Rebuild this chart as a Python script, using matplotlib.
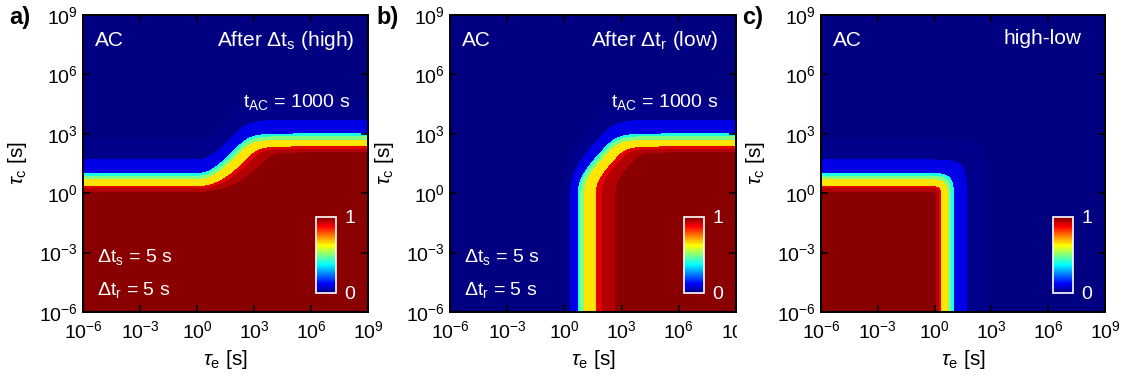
import numpy as np
import matplotlib
matplotlib.use("Agg")
from matplotlib import pyplot as plt
from matplotlib.colors import ListedColormap
from matplotlib.transforms import Bbox, TransformedBbox

plt.rcParams['font.family'] = ['Liberation Sans', 'DejaVu Sans']
plt.rcParams['mathtext.fontset'] = 'custom'
plt.rcParams['mathtext.rm'] = 'Liberation Sans'
plt.rcParams['mathtext.it'] = 'Liberation Sans:italic'
plt.rcParams['mathtext.bf'] = 'Liberation Sans:bold'

# AC stress parameters (from the annotations)
dt_s = 5.0      # high phase [s]
dt_r = 5.0      # low phase [s]
t_ac = 1000.0   # total AC time [s]

# contour levels of the occupancy maps
levels = [0, 0.01, 0.1, 0.4, 0.5, 0.65, 0.9, 0.95, 0.99, 1.0]

tick_vals = [1e-6, 1e-3, 1e0, 1e3, 1e6, 1e9]
tick_labels = [r'$10^{-6}$', r'$10^{-3}$', r'$10^{0}$', r'$10^{3}$', r'$10^{6}$', r'$10^{9}$']

panel_names = ['a)', 'b)', 'c)']
panel_titles = [r'After $\Delta$t$_\mathrm{s}$ (high)', r'After $\Delta$t$_\mathrm{r}$ (low)', 'high-low']


def matlab_jet(v):
    v = np.asarray(v, dtype=float)
    r = np.clip(1.5 - np.abs(4 * v - 3), 0, 1)
    g = np.clip(1.5 - np.abs(4 * v - 2), 0, 1)
    b = np.clip(1.5 - np.abs(4 * v - 1), 0, 1)
    return np.stack([r, g, b], axis=-1)


# occupancy of a trap: capture (tau_c) in high phase, emission (tau_e) in low phase
tau = np.logspace(-6, 9, 401)
te, tc = np.meshgrid(tau, tau)
cap = np.exp(-dt_s / tc)
emi = np.exp(-dt_r / te)
p = np.zeros_like(te)
n_cycles = int(round(t_ac / (dt_s + dt_r)))
for i in range(n_cycles):
    p_high = 1 - (1 - p) * cap
    p = p_high * emi
p_low = p
maps = [p_high, p_low, np.clip(p_high - p_low, 0, 1)]

fill_colors = [tuple(c) for c in matlab_jet(levels[:-1])]
jet_cmap = ListedColormap(matlab_jet(np.linspace(0, 1, 256)))

fig = plt.figure(figsize=(11.26, 3.81), dpi=100)
W, H = 1126.0, 381.0
lefts = [83, 450, 821]
widths = [285, 286, 284]
label_x = [9, 376, 742]
title_x = [0.951, 0.937, 0.919]

sm = plt.cm.ScalarMappable(cmap=jet_cmap, norm=plt.Normalize(0, 1))

axes = []
for k in range(3):
    ax = fig.add_axes([lefts[k] / W, 69 / H, widths[k] / W, 297 / H])
    axes.append(ax)
    ax.contourf(te, tc, maps[k], levels=levels, colors=fill_colors)
    ax.set_xscale('log')
    ax.set_yscale('log')
    ax.set_xlim(1e-6, 1e9)
    ax.set_ylim(1e-6, 1e9)
    ax.set_xticks(tick_vals)
    ax.set_xticklabels(tick_labels)
    ax.set_yticks(tick_vals)
    ax.set_yticklabels(tick_labels)
    ax.minorticks_off()
    ax.tick_params(direction='in', top=True, right=True, length=5, width=1.2,
                   labelsize=14, colors='black')
    ax.tick_params(axis='x', pad=6)
    ax.tick_params(axis='y', pad=4)
    for s in ax.spines.values():
        s.set_linewidth(1.4)
    ax.set_xlabel(r'$\tau_\mathrm{e}$ [s]', fontsize=15)
    ax.set_ylabel(r'$\tau_\mathrm{c}$ [s]', fontsize=15)
    ax.xaxis.set_label_coords(0.5, -0.12)
    ax.yaxis.set_label_coords(-0.19, 0.5)

    ax.text(0.042, 0.895, 'AC', color='white', fontsize=15, transform=ax.transAxes,
            ha='left', va='baseline')
    ax.text(title_x[k], 0.895 if k < 2 else 0.903, panel_titles[k], color='white',
            fontsize=15, transform=ax.transAxes, ha='right', va='baseline')
    if k < 2:
        ax.text(0.937, 0.691, r't$_\mathrm{AC}$ = 1000 s', color='white', fontsize=14,
                transform=ax.transAxes, ha='right', va='baseline')
        ax.text(0.049, 0.169, r'$\Delta$t$_\mathrm{s}$ = 5 s', color='white', fontsize=14,
                transform=ax.transAxes, ha='left', va='baseline')
        ax.text(0.049, 0.057, r'$\Delta$t$_\mathrm{r}$ = 5 s', color='white', fontsize=14,
                transform=ax.transAxes, ha='left', va='baseline')

    cax = ax.inset_axes([0.8175, 0.064, 0.07, 0.256])
    cb = fig.colorbar(sm, cax=cax, ticks=[0, 1])
    cb.set_ticklabels(['0', '1'])
    cb.outline.set_edgecolor('white')
    cb.outline.set_linewidth(1.2)
    cax.tick_params(length=0, labelcolor='white', labelsize=14, pad=6)

    fig.text(label_x[k] / W, 1 - 24 / H, panel_names[k], fontsize=17,
             fontweight='bold', ha='left', va='baseline')

# the last x tick label of panel b is cut by panel c in the original
lab = axes[1].xaxis.get_major_ticks()[-1].label1
lab.set_clip_on(True)
lab.set_clip_box(TransformedBbox(Bbox.from_extents(0, 0, 737 / W, 1), fig.transFigure))

plt.savefig("out.png", dpi=100)
